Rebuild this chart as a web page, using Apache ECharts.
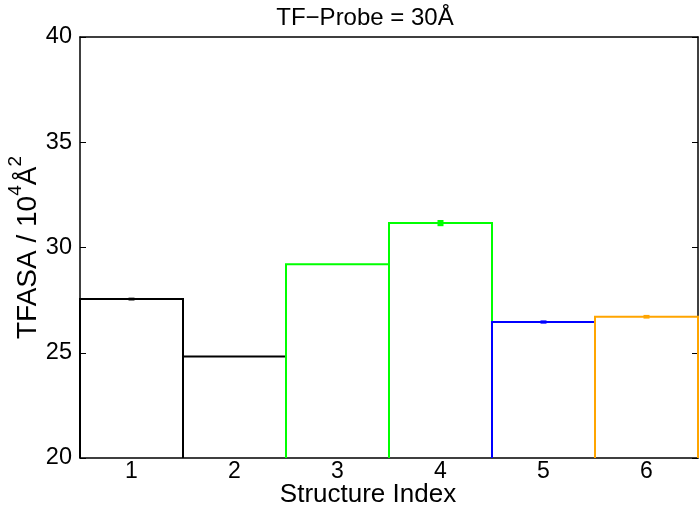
<!DOCTYPE html>
<html><head><meta charset="utf-8">
<script src="https://cdn.jsdelivr.net/npm/echarts@6/dist/echarts.min.js"></script>
<style>html,body{margin:0;padding:0;background:#fff}#c{width:700px;height:513px}</style>
</head><body><div id="c"></div>
<script>
var categories = ['1', '2', '3', '4', '5', '6'];
var values = [27.55, 24.82, 29.2, 31.16, 26.46, 26.71];
var errors = [0.02, 0.0, 0.0, 0.1, 0.03, 0.04];
var colors = ['#000000', '#000000', '#00ff00', '#00ff00', '#0000ff', '#ffa500'];
var yTicks = [20, 25, 30, 35, 40];

var FONT = 'Liberation Sans, Arial, sans-serif';
var chart = echarts.init(document.getElementById('c'), null, {renderer: 'canvas'});
var barData = values.map(function (v, i) { return [i, v, errors[i]]; });

chart.setOption({
  animation: false,
  title: {
    text: 'TF\u2212Probe = 30\u00c5', left: 360, top: 1, textAlign: 'center',
    textStyle: {fontFamily: FONT, fontSize: 24, fontWeight: 'normal', color: '#000'}
  },
  grid: {left: 80, right: 2, top: 37, bottom: 55, containLabel: false, outerBoundsMode: 'none'},
  xAxis: [{
    type: 'category', data: categories, boundaryGap: true,
    name: 'Structure Index', nameLocation: 'middle', nameGap: 24, nameMoveOverlap: false,
    nameTextStyle: {fontFamily: FONT, fontSize: 26, color: '#000', padding: [0, 42, 0, 0]},
    axisLine: {lineStyle: {color: '#000', width: 1.5}},
    axisTick: {inside: true, alignWithLabel: true, length: 6, lineStyle: {color: '#000'}},
    axisLabel: {fontFamily: FONT, fontSize: 23, color: '#000', margin: 2},
    splitLine: {show: false}
  }, {
    type: 'category', data: categories, boundaryGap: true, position: 'top',
    axisLine: {lineStyle: {color: '#000', width: 1.5}},
    axisTick: {inside: true, alignWithLabel: true, length: 6, lineStyle: {color: '#000'}},
    axisLabel: {show: false}, splitLine: {show: false}
  }],
  yAxis: [{
    type: 'value', min: 20, max: 40, interval: 5,
    name: '{a|TFASA / 10}{s|4}{a|\u00c5}{s|2}', nameLocation: 'middle', nameGap: 38, nameMoveOverlap: false,
    nameTextStyle: {
      fontFamily: FONT, fontSize: 28, color: '#000',
      rich: {
        a: {fontFamily: FONT, fontSize: 28, color: '#000', lineHeight: 36, verticalAlign: 'bottom'},
        s: {fontFamily: FONT, fontSize: 19, color: '#000', lineHeight: 36, verticalAlign: 'top'}
      }
    },
    axisLine: {show: true, lineStyle: {color: '#000', width: 1.5}},
    axisTick: {show: true, inside: true, length: 6, lineStyle: {color: '#000'}},
    axisLabel: {fontFamily: FONT, fontSize: 23.5, color: '#000', margin: 8,
      formatter: function (v) { return yTicks.indexOf(v) >= 0 ? String(v) : ''; }},
    splitLine: {show: false}
  }, {
    type: 'value', min: 20, max: 40, interval: 5, position: 'right',
    axisLine: {show: true, lineStyle: {color: '#000', width: 1.5}},
    axisTick: {show: true, inside: true, length: 6, lineStyle: {color: '#000'}},
    axisLabel: {show: false}, splitLine: {show: false}
  }],
  series: [{
    type: 'custom', xAxisIndex: 0, yAxisIndex: 0, z: 3,
    data: barData,
    renderItem: function (params, api) {
      var i = api.value(0);
      var top = api.coord([i, api.value(1)]);
      var base = api.coord([i, 20]);
      var w = api.size([1, 0])[0];
      var c = colors[params.dataIndex];
      var e = api.value(2);
      var hi = api.coord([i, api.value(1) + e]);
      var lo = api.coord([i, api.value(1) - e]);
      var x0 = top[0] - w / 2, x1 = top[0] + w / 2;
      var children = [{
        type: 'polyline',
        shape: {points: [[x0, base[1]], [x0, top[1]], [x1, top[1]], [x1, base[1]]]},
        style: {fill: 'none', stroke: c, lineWidth: 2}
      }];
      if (e > 0) {
        children.push({
          type: 'rect',
          shape: {x: top[0] - 3, y: hi[1] - 1, width: 6, height: Math.max(lo[1] - hi[1], 0) + 2},
          style: {fill: c}
        });
      }
      return {type: 'group', children: children};
    }
  }]
});
</script></body></html>
